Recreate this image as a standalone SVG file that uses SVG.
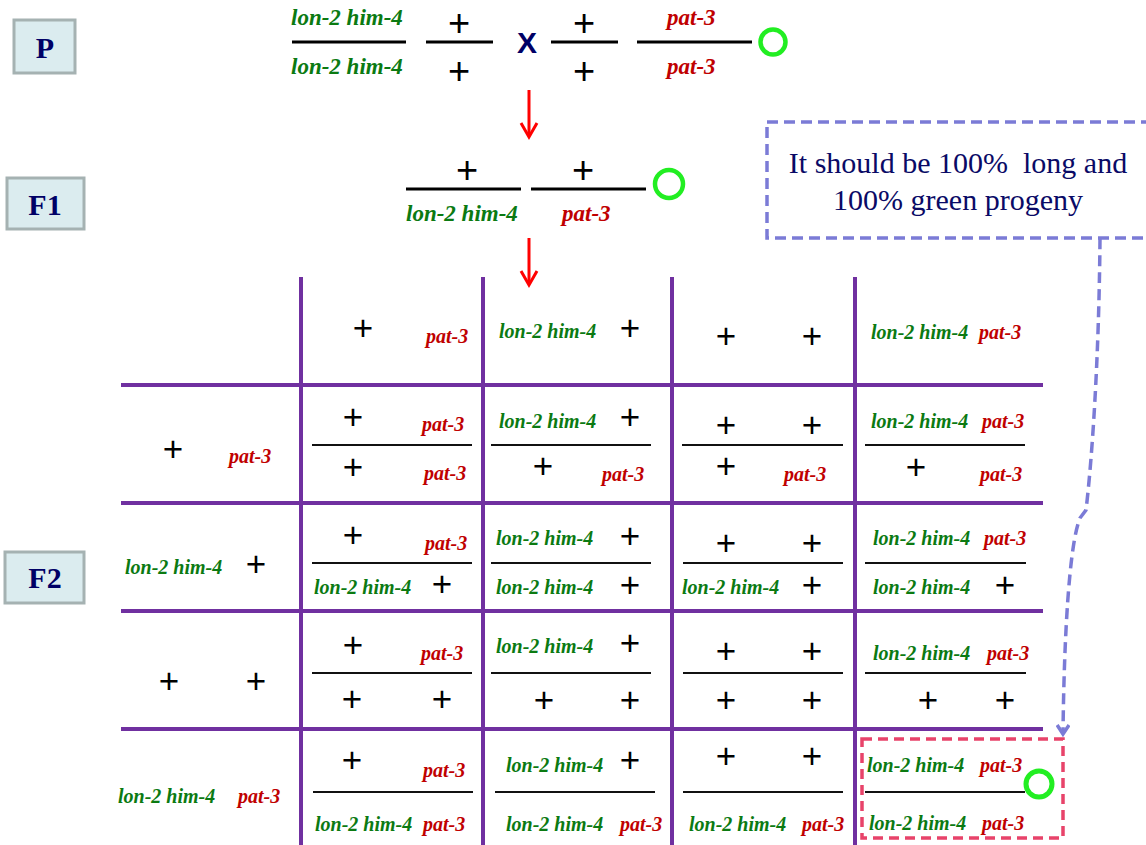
<svg xmlns="http://www.w3.org/2000/svg" width="1146" height="845" viewBox="0 0 1146 845">
  <style>
    .lbl-box { fill: #DBECEF; stroke: #A5B2B2; stroke-width: 3; }
    .lbl { font-family: "Liberation Serif", "Times New Roman", serif; font-weight: bold; font-size: 30px; fill: #000066; text-anchor: middle; }
    .g { font-family: "Liberation Serif", "Times New Roman", serif; font-weight: bold; font-style: italic; font-size: 20px; fill: #0B7A12; }
    .r { font-family: "Liberation Serif", "Times New Roman", serif; font-weight: bold; font-style: italic; font-size: 20px; fill: #C00000; }
    .big { font-size: 23px; }
    .p { font-family: "Liberation Sans", Arial, sans-serif; font-size: 35px; fill: #000; text-anchor: middle; }
    .pbig { font-size: 38px; }
    .fl { stroke: #111; stroke-width: 2; }
    .flb { stroke: #000; stroke-width: 3; }
    .grid { stroke: #7030A0; stroke-width: 4; fill: none; }
    .ring { fill: none; stroke: #22EE22; }
    .red-arrow { stroke: #FF0000; stroke-width: 3; fill: none; }
    .note { font-family: "Liberation Serif", "Times New Roman", serif; font-size: 30px; fill: #0A0A66; text-anchor: middle; }
  </style>
  <defs>
    <marker id="vhead" markerWidth="14" markerHeight="14" refX="10" refY="7" orient="auto" markerUnits="userSpaceOnUse" viewBox="0 0 14 14">
      <path d="M1,1 L10,7 L1,13" fill="none" stroke="#7B7BD6" stroke-width="3.5"/>
    </marker>
  </defs>

  <!-- generation labels -->
  <g id="label-P">
    <rect class="lbl-box" x="14" y="20" width="61" height="53"/>
    <text class="lbl" x="45" y="58">P</text>
  </g>
  <g id="label-F1">
    <rect class="lbl-box" x="7" y="178" width="77" height="51"/>
    <text class="lbl" x="45" y="215">F1</text>
  </g>
  <g id="label-F2">
    <rect class="lbl-box" x="5" y="552" width="79" height="51"/>
    <text class="lbl" x="45" y="588">F2</text>
  </g>

  <!-- parental cross -->
  <g id="parent-cross">
    <text class="g big" x="291" y="25">lon-2 him-4</text>
    <line class="flb" x1="292" y1="42" x2="406" y2="42"/>
    <text class="g big" x="291" y="74">lon-2 him-4</text>
    <text class="p pbig" x="459" y="36">+</text>
    <line class="flb" x1="426" y1="42" x2="493" y2="42"/>
    <text class="p pbig" x="459" y="84">+</text>
    <text x="527" y="53" font-family="Liberation Sans, Arial, sans-serif" font-weight="bold" font-size="30" fill="#000066" text-anchor="middle">X</text>
    <text class="p pbig" x="584" y="36">+</text>
    <line class="flb" x1="551" y1="42" x2="618" y2="42"/>
    <text class="p pbig" x="584" y="84">+</text>
    <text class="r big" x="667" y="25">pat-3</text>
    <line class="flb" x1="637" y1="42" x2="752" y2="42"/>
    <text class="r big" x="667" y="74">pat-3</text>
    <circle class="ring" cx="773" cy="42" r="12.5" stroke-width="4.5"/>
  </g>

  <!-- F1 genotype -->
  <g id="f1-genotype">
    <text class="p pbig" x="467" y="183">+</text>
    <line class="flb" x1="406" y1="189" x2="521" y2="189"/>
    <text class="g big" x="406" y="221">lon-2 him-4</text>
    <text class="p pbig" x="583" y="183">+</text>
    <line class="flb" x1="531" y1="189" x2="646" y2="189"/>
    <text class="r big" x="562" y="221">pat-3</text>
    <circle class="ring" cx="669" cy="184" r="14" stroke-width="4.5"/>
  </g>

  <!-- expectation note -->
  <g id="note">
    <rect x="767" y="122" width="385" height="116" fill="none" stroke="#7B7BD6" stroke-width="3.5" stroke-dasharray="11 6"/>
    <text class="note" x="958" y="173" xml:space="preserve">It should be 100%  long and</text>
    <text class="note" x="958" y="210">100% green progeny</text>
  </g>

  <!-- Punnett square grid -->
  <g id="grid">
    <line class="grid" x1="301" y1="277" x2="301" y2="845"/>
    <line class="grid" x1="483" y1="277" x2="483" y2="845"/>
    <line class="grid" x1="672" y1="277" x2="672" y2="845"/>
    <line class="grid" x1="855" y1="277" x2="855" y2="845"/>
    <line class="grid" x1="121" y1="385" x2="1043" y2="385"/>
    <line class="grid" x1="121" y1="503" x2="1043" y2="503"/>
    <line class="grid" x1="121" y1="611" x2="1043" y2="611"/>
    <line class="grid" x1="121" y1="729" x2="1043" y2="729"/>
  </g>

  <!-- gamete headers (top) -->
  <g id="gamete-col1">
    <text class="p" x="363" y="340">+</text>
    <text class="r" x="426" y="343">pat-3</text>
  </g>
  <g id="gamete-col2">
    <text class="g" x="499" y="338">lon-2 him-4</text>
    <text class="p" x="630" y="340">+</text>
  </g>
  <g id="gamete-col3">
    <text class="p" x="726" y="348">+</text>
    <text class="p" x="812" y="348">+</text>
  </g>
  <g id="gamete-col4">
    <text class="g" x="871" y="339">lon-2 him-4</text>
    <text class="r" x="979" y="339">pat-3</text>
  </g>

  <!-- gamete headers (left) -->
  <g id="gamete-row1">
    <text class="p" x="173" y="461">+</text>
    <text class="r" x="229" y="463">pat-3</text>
  </g>
  <g id="gamete-row2">
    <text class="g" x="125" y="574">lon-2 him-4</text>
    <text class="p" x="256" y="576">+</text>
  </g>
  <g id="gamete-row3">
    <text class="p" x="169" y="693">+</text>
    <text class="p" x="256" y="693">+</text>
  </g>
  <g id="gamete-row4">
    <text class="g" x="118" y="803">lon-2 him-4</text>
    <text class="r" x="238" y="803">pat-3</text>
  </g>

  <!-- row 1 -->
  <g id="cell-1-1">
    <text class="p" x="353" y="429">+</text>
    <text class="r" x="422" y="431">pat-3</text>
    <line class="fl" x1="312" y1="445" x2="472" y2="445"/>
    <text class="p" x="353" y="479">+</text>
    <text class="r" x="424" y="480">pat-3</text>
  </g>
  <g id="cell-1-2">
    <text class="g" x="499" y="428">lon-2 him-4</text>
    <text class="p" x="630" y="429">+</text>
    <line class="fl" x1="491" y1="445" x2="651" y2="445"/>
    <text class="p" x="543" y="478">+</text>
    <text class="r" x="602" y="481">pat-3</text>
  </g>
  <g id="cell-1-3">
    <text class="p" x="726" y="437">+</text>
    <text class="p" x="812" y="437">+</text>
    <line class="fl" x1="682" y1="445" x2="843" y2="445"/>
    <text class="p" x="726" y="478">+</text>
    <text class="r" x="784" y="481">pat-3</text>
  </g>
  <g id="cell-1-4">
    <text class="g" x="871" y="428">lon-2 him-4</text>
    <text class="r" x="982" y="428">pat-3</text>
    <line class="fl" x1="865" y1="445" x2="1025" y2="445"/>
    <text class="p" x="916" y="479">+</text>
    <text class="r" x="980" y="481">pat-3</text>
  </g>

  <!-- row 2 -->
  <g id="cell-2-1">
    <text class="p" x="353" y="547">+</text>
    <text class="r" x="425" y="550">pat-3</text>
    <line class="fl" x1="312" y1="563" x2="472" y2="563"/>
    <text class="g" x="314" y="594">lon-2 him-4</text>
    <text class="p" x="442" y="596">+</text>
  </g>
  <g id="cell-2-2">
    <text class="g" x="496" y="545">lon-2 him-4</text>
    <text class="p" x="630" y="548">+</text>
    <line class="fl" x1="491" y1="563" x2="651" y2="563"/>
    <text class="g" x="496" y="594">lon-2 him-4</text>
    <text class="p" x="630" y="597">+</text>
  </g>
  <g id="cell-2-3">
    <text class="p" x="726" y="555">+</text>
    <text class="p" x="812" y="555">+</text>
    <line class="fl" x1="683" y1="563" x2="843" y2="563"/>
    <text class="g" x="682" y="594">lon-2 him-4</text>
    <text class="p" x="812" y="597">+</text>
  </g>
  <g id="cell-2-4">
    <text class="g" x="873" y="545">lon-2 him-4</text>
    <text class="r" x="984" y="545">pat-3</text>
    <line class="fl" x1="865" y1="563" x2="1026" y2="563"/>
    <text class="g" x="873" y="594">lon-2 him-4</text>
    <text class="p" x="1005" y="597">+</text>
  </g>

  <!-- row 3 -->
  <g id="cell-3-1">
    <text class="p" x="353" y="657">+</text>
    <text class="r" x="421" y="660">pat-3</text>
    <line class="fl" x1="312" y1="673" x2="472" y2="673"/>
    <text class="p" x="352" y="711">+</text>
    <text class="p" x="442" y="711">+</text>
  </g>
  <g id="cell-3-2">
    <text class="g" x="496" y="653">lon-2 him-4</text>
    <text class="p" x="630" y="655">+</text>
    <line class="fl" x1="491" y1="673" x2="651" y2="673"/>
    <text class="p" x="544" y="712">+</text>
    <text class="p" x="630" y="712">+</text>
  </g>
  <g id="cell-3-3">
    <text class="p" x="726" y="663">+</text>
    <text class="p" x="812" y="663">+</text>
    <line class="fl" x1="683" y1="673" x2="843" y2="673"/>
    <text class="p" x="726" y="712">+</text>
    <text class="p" x="812" y="712">+</text>
  </g>
  <g id="cell-3-4">
    <text class="g" x="873" y="660">lon-2 him-4</text>
    <text class="r" x="987" y="660">pat-3</text>
    <line class="fl" x1="865" y1="673" x2="1026" y2="673"/>
    <text class="p" x="928" y="712">+</text>
    <text class="p" x="1005" y="712">+</text>
  </g>

  <!-- row 4 -->
  <g id="cell-4-1">
    <text class="p" x="352" y="772">+</text>
    <text class="r" x="423" y="777">pat-3</text>
    <line class="fl" x1="313" y1="792" x2="473" y2="792"/>
    <text class="g" x="315" y="831">lon-2 him-4</text>
    <text class="r" x="423" y="831">pat-3</text>
  </g>
  <g id="cell-4-2">
    <text class="g" x="506" y="772">lon-2 him-4</text>
    <text class="p" x="630" y="772">+</text>
    <line class="fl" x1="495" y1="792" x2="655" y2="792"/>
    <text class="g" x="506" y="831">lon-2 him-4</text>
    <text class="r" x="620" y="831">pat-3</text>
  </g>
  <g id="cell-4-3">
    <text class="p" x="726" y="768">+</text>
    <text class="p" x="812" y="768">+</text>
    <line class="fl" x1="683" y1="792" x2="843" y2="792"/>
    <text class="g" x="689" y="831">lon-2 him-4</text>
    <text class="r" x="802" y="831">pat-3</text>
  </g>
  <g id="cell-4-4">
    <rect x="862" y="739" width="201" height="99" fill="none" stroke="#E8436A" stroke-width="3.5" stroke-dasharray="10 6"/>
    <text class="g" x="867" y="772">lon-2 him-4</text>
    <text class="r" x="980" y="772">pat-3</text>
    <line class="fl" x1="865" y1="792" x2="1025" y2="792"/>
    <circle class="ring" cx="1039" cy="784" r="13" stroke-width="5"/>
    <text class="g" x="869" y="830">lon-2 him-4</text>
    <text class="r" x="982" y="830">pat-3</text>
  </g>

  <!-- connectors -->
  <g id="connectors">
    <line class="red-arrow" x1="529" y1="90" x2="529" y2="136"/>
    <polyline class="red-arrow" points="521,123 529,137 537,123"/>
    <line class="red-arrow" x1="529" y1="238" x2="529" y2="284"/>
    <polyline class="red-arrow" points="521,271 529,285 537,271"/>
    <path d="M1100 238 C1099 360 1092 460 1086 510 L1080 518 C1069 545 1064 640 1063 734" fill="none" stroke="#7B7BD6" stroke-width="3.5" stroke-dasharray="11 6" marker-end="url(#vhead)"/>
  </g>
</svg>
